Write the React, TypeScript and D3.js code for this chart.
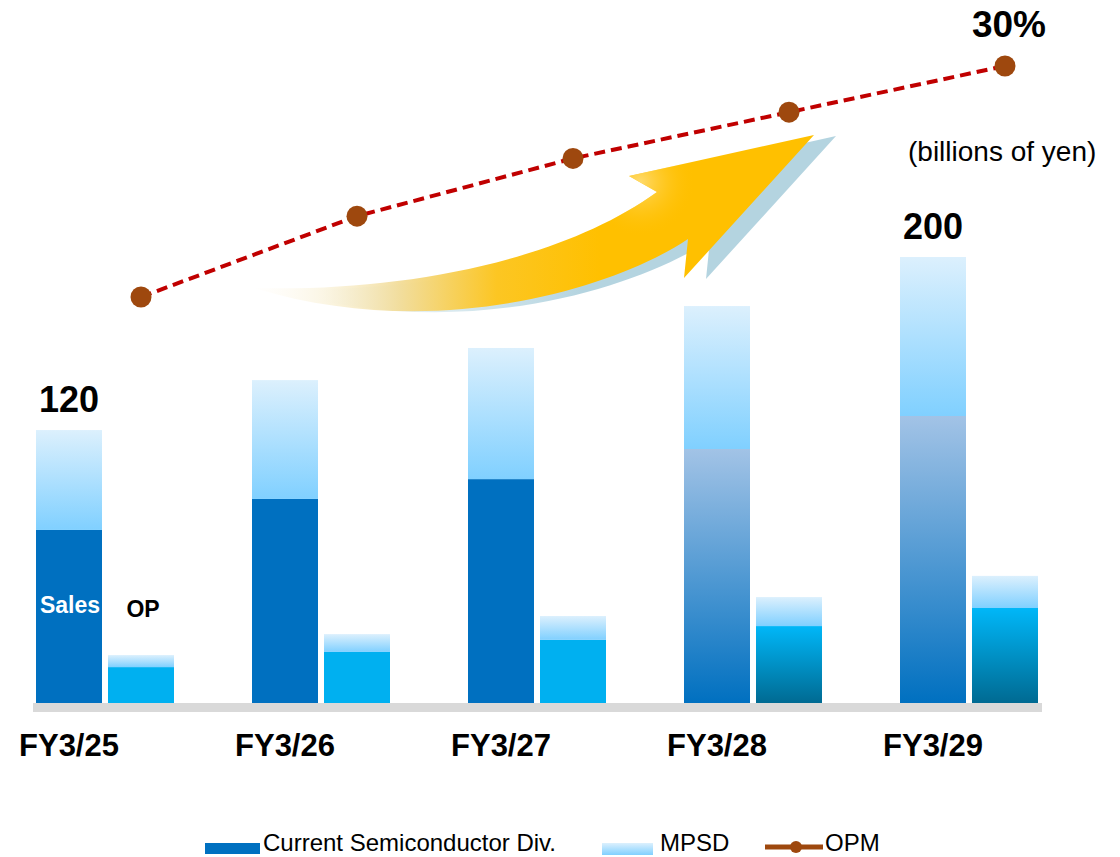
import React from "react";
import * as d3 from "d3";

// ---- data (billions of yen) ----
const categories = ["FY3/25", "FY3/26", "FY3/27", "FY3/28", "FY3/29"];
const salesSemi = [77.6, 91.5, 100.4, 113.9, 128.7];
const salesMpsd = [44.8, 53.3, 58.8, 64.1, 71.3];
const opSemi = [16.1, 22.9, 28.3, 34.5, 42.6];
const opMpsd = [5.4, 8.0, 10.7, 13.0, 14.4];
const opmValues = [18.0, 22.2, 25.2, 27.6, 30.0];
const isPlan = [false, false, false, true, true];
const salesTotalLabels = ["120", "", "", "", "200"];
const opmLabels = ["", "", "", "", "30%"];
const seriesNames = ["Current Semiconductor Div.", "MPSD", "OPM"];

const W = 1120;
const H = 857;
const FONT = "'Liberation Sans', Arial, Helvetica, sans-serif";

export default function App() {
  const x = d3
    .scaleBand<string>()
    .domain(categories)
    .range([36, 1038])
    .paddingInner(78 / 216)
    .paddingOuter(0);
  const inner = d3
    .scaleBand<string>()
    .domain(["sales", "op"])
    .range([0, x.bandwidth()])
    .paddingInner(6 / 72)
    .paddingOuter(0);
  const bw = inner.bandwidth();
  const y = d3.scaleLinear().domain([0, 200]).range([703, 257]);
  const yOpm = d3.scaleLinear().domain([0, 30]).range([643.5, 66]);

  const salesX = (i: number) => (x(categories[i]) as number) + (inner("sales") as number);
  const opX = (i: number) => (x(categories[i]) as number) + (inner("op") as number);

  const line = d3
    .line<number>()
    .x((_, i) => opX(i) + bw / 2)
    .y((d) => yOpm(d));

  const arrowPath =
    "M254,288 C400,292 560,262 657,192 L629,176 L814,135 L684,278 L688,239 C620,285 440,345 254,288 Z";

  return (
    <svg
      width={W}
      height={H}
      viewBox={`0 0 ${W} ${H}`}
      style={{ position: "absolute", left: 0, top: 0, background: "#fff" }}
      fontFamily={FONT}
    >
      <defs>
        <linearGradient id="mpsdGrad" x1="0" y1="0" x2="0" y2="1">
          <stop offset="0" stopColor="#dcf0fd" />
          <stop offset="1" stopColor="#80d0ff" />
        </linearGradient>
        <linearGradient id="semiPlanGrad" x1="0" y1="0" x2="0" y2="1">
          <stop offset="0" stopColor="#a2c3e6" />
          <stop offset="1" stopColor="#0070c0" />
        </linearGradient>
        <linearGradient id="opPlanGrad" x1="0" y1="0" x2="0" y2="1">
          <stop offset="0" stopColor="#00b7f8" />
          <stop offset="1" stopColor="#006a92" />
        </linearGradient>
        <linearGradient id="arrowGrad" gradientUnits="userSpaceOnUse" x1="255" y1="0" x2="600" y2="0">
          <stop offset="0" stopColor="#fffaf0" stopOpacity="0.1" />
          <stop offset="0.2" stopColor="#f8efd2" stopOpacity="0.6" />
          <stop offset="0.42" stopColor="#f2dc98" stopOpacity="0.95" />
          <stop offset="0.7" stopColor="#fcc623" stopOpacity="1" />
          <stop offset="1" stopColor="#ffc000" stopOpacity="1" />
        </linearGradient>
        <radialGradient id="arrowHeadGrad" gradientUnits="userSpaceOnUse" cx="640" cy="182" r="55">
          <stop offset="0" stopColor="#ffdf80" stopOpacity="0.85" />
          <stop offset="1" stopColor="#ffc000" stopOpacity="0" />
        </radialGradient>
        <linearGradient id="shadowGrad" gradientUnits="userSpaceOnUse" x1="300" y1="0" x2="560" y2="0">
          <stop offset="0" stopColor="#b4d4e0" stopOpacity="0" />
          <stop offset="1" stopColor="#b4d4e0" stopOpacity="1" />
        </linearGradient>
      </defs>

      {/* axis baseline */}
      <rect x={33} y={703} width={1009} height={9} fill="#d9d9d9" />

      {/* bars */}
      {categories.map((c, i) => {
        const sx = salesX(i);
        const ox = opX(i);
        return (
          <g key={c}>
            <rect
              x={sx}
              y={y(salesSemi[i])}
              width={bw}
              height={y(0) - y(salesSemi[i])}
              fill={isPlan[i] ? "url(#semiPlanGrad)" : "#0070c0"}
            />
            <rect
              x={sx}
              y={y(salesSemi[i] + salesMpsd[i])}
              width={bw}
              height={y(salesSemi[i]) - y(salesSemi[i] + salesMpsd[i])}
              fill="url(#mpsdGrad)"
            />
            <rect
              x={ox}
              y={y(opSemi[i])}
              width={bw}
              height={y(0) - y(opSemi[i])}
              fill={isPlan[i] ? "url(#opPlanGrad)" : "#00b0f0"}
            />
            <rect
              x={ox}
              y={y(opSemi[i] + opMpsd[i])}
              width={bw}
              height={y(opSemi[i]) - y(opSemi[i] + opMpsd[i])}
              fill="url(#mpsdGrad)"
            />
            {salesTotalLabels[i] && (
              <text
                x={sx + bw / 2}
                y={y(salesSemi[i] + salesMpsd[i]) - 18}
                textAnchor="middle"
                fontSize={36}
                fontWeight="bold"
                fill="#000"
              >
                {salesTotalLabels[i]}
              </text>
            )}
            <text
              x={sx + bw / 2}
              y={756}
              textAnchor="middle"
              fontSize={31}
              fontWeight="bold"
              fill="#000"
            >
              {c}
            </text>
          </g>
        );
      })}

      {/* in-bar labels */}
      <text x={salesX(0) + bw / 2 + 1} y={613} textAnchor="middle" fontSize={23} fontWeight="bold" fill="#fff">
        Sales
      </text>
      <text x={opX(0) + bw / 2 + 2} y={617} textAnchor="middle" fontSize={23} fontWeight="bold" fill="#000">
        OP
      </text>

      {/* decorative arrow */}
      <path d={arrowPath} transform="translate(22,1)" fill="url(#shadowGrad)" />
      <path d={arrowPath} fill="url(#arrowGrad)" />
      <path d={arrowPath} fill="url(#arrowHeadGrad)" />

      {/* OPM line */}
      <path
        d={line(opmValues) || ""}
        fill="none"
        stroke="#c00000"
        strokeWidth={4}
        strokeDasharray="11 6"
      />
      {opmValues.map((v, i) => (
        <circle key={i} cx={opX(i) + bw / 2} cy={yOpm(v)} r={10.5} fill="#9e480e" />
      ))}
      {opmValues.map((v, i) =>
        opmLabels[i] ? (
          <text
            key={"l" + i}
            x={opX(i) + bw / 2 + 4}
            y={yOpm(v) - 29}
            textAnchor="middle"
            fontSize={37}
            fontWeight="bold"
            fill="#000"
          >
            {opmLabels[i]}
          </text>
        ) : null
      )}

      {/* unit */}
      <text x={908} y={161} fontSize={28} fill="#000">
        (billions of yen)
      </text>

      {/* legend */}
      <rect x={205} y={843} width={55} height={11} fill="#0070c0" />
      <text x={263} y={851} fontSize={24} fill="#000">
        {seriesNames[0]}
      </text>
      <rect x={602} y={843} width={51} height={12} fill="url(#mpsdGrad)" />
      <text x={660} y={851} fontSize={24} fill="#000">
        {seriesNames[1]}
      </text>
      <line x1={765} x2={823} y1={847} y2={847} stroke="#9e480e" strokeWidth={5} />
      <circle cx={796} cy={847} r={6} fill="#9e480e" />
      <text x={825} y={851} fontSize={24} fill="#000">
        {seriesNames[2]}
      </text>
    </svg>
  );
}
